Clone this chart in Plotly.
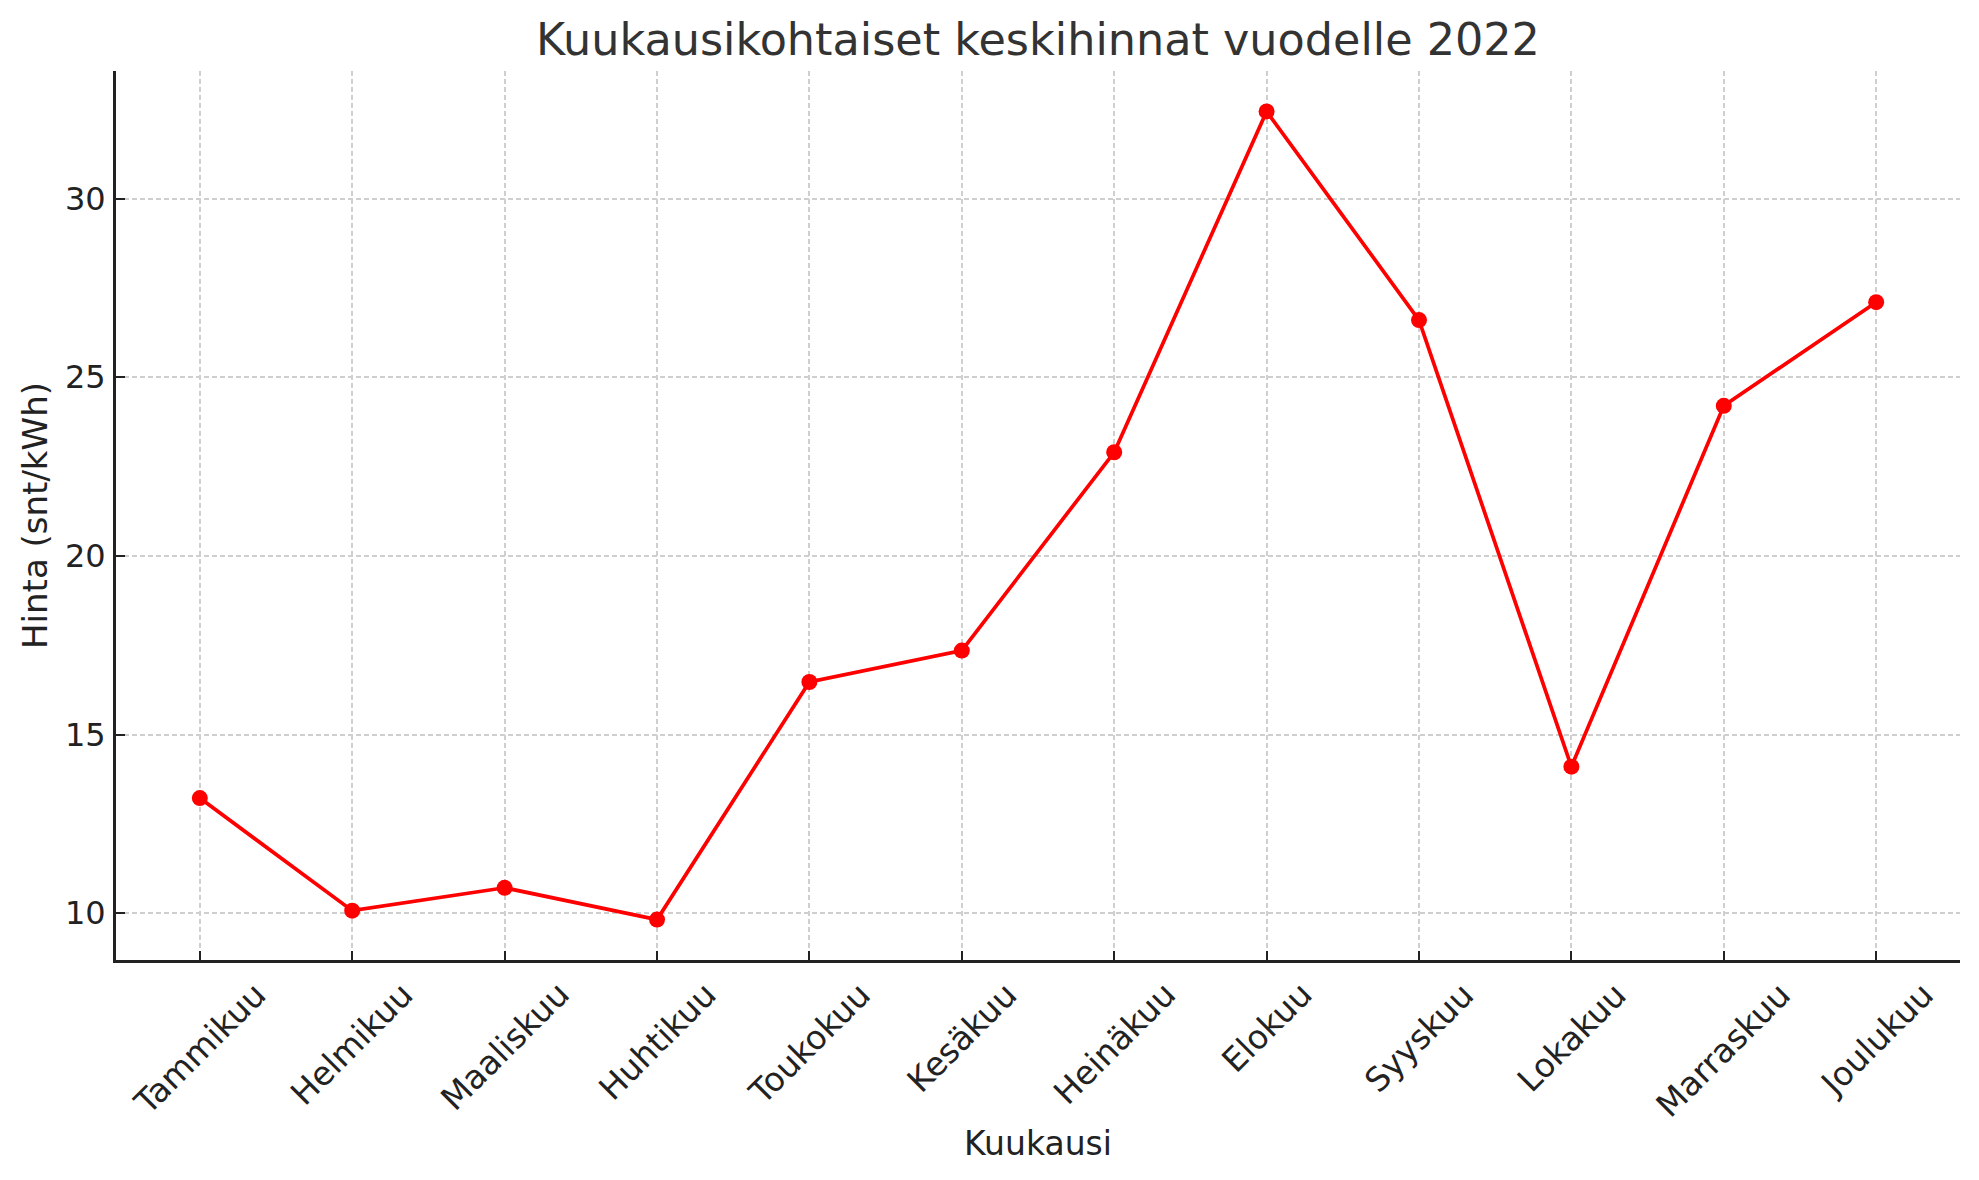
import plotly.graph_objects as go

months = ["Tammikuu", "Helmikuu", "Maaliskuu", "Huhtikuu", "Toukokuu", "Kesäkuu",
          "Heinäkuu", "Elokuu", "Syyskuu", "Lokakuu", "Marraskuu", "Joulukuu"]
prices = [13.22, 10.07, 10.71, 9.82, 16.47, 17.35, 22.9, 32.44, 26.6, 14.1, 24.2, 27.1]
y_ticks = [10, 15, 20, 25, 30]

FONT = "DejaVu Sans"
TXT = "#222222"
x_idx = list(range(len(months)))

fig = go.Figure()
fig.add_trace(go.Scatter(
    x=x_idx, y=prices, mode="lines+markers",
    line=dict(color="#ff0000", width=3.7),
    marker=dict(color="#ff0000", size=16),
    showlegend=False,
))

# month labels, rotated 45 degrees and centred under each tick
for i, m in enumerate(months):
    fig.add_annotation(
        x=i, xref="x", y=0, yref="paper", text=m, showarrow=False,
        textangle=-45, xanchor="center", yanchor="top", yshift=-12,
        font=dict(family=FONT, size=33, color=TXT),
    )

pad = 0.05 * (len(months) - 1)
ymin, ymax = min(prices), max(prices)
ypad = 0.05 * (ymax - ymin)

W, H = 1971, 1172  # page body has an 8px default margin
fig.update_layout(
    width=W, height=H,
    margin=dict(l=108, r=W - (1960 - 8), t=63, b=H - (960 - 8)),
    plot_bgcolor="white", paper_bgcolor="white",
    font=dict(family=FONT, color=TXT, size=33),
    title=dict(text="Kuukausikohtaiset keskihinnat vuodelle 2022",
               x=0.5, xref="paper", y=1 - (39 - 8) / H, yref="container",
               xanchor="center", yanchor="middle",
               font=dict(family=FONT, size=44.5, color="#333333")),
    xaxis=dict(
        tickmode="array", tickvals=x_idx, showticklabels=False,
        range=[-pad, len(months) - 1 + pad],
        ticks="inside", ticklen=9, tickwidth=2, tickcolor=TXT,
        showline=True, linecolor=TXT, linewidth=3, mirror=False,
        showgrid=True, gridcolor="#cfcfcf", gridwidth=1.7, griddash="5px,3px",
        zeroline=False, automargin=False,
        title=dict(text="Kuukausi", font=dict(size=33, color=TXT), standoff=170),
    ),
    yaxis=dict(
        tickmode="array", tickvals=y_ticks, ticktext=[str(v) for v in y_ticks],
        range=[ymin - ypad, ymax + ypad],
        ticks="inside", ticklen=9, tickwidth=2, tickcolor=TXT,
        ticklabelstandoff=1,
        showline=True, linecolor=TXT, linewidth=3, mirror=False,
        showgrid=True, gridcolor="#cfcfcf", gridwidth=1.7, griddash="5px,3px",
        zeroline=False, automargin=False,
        tickfont=dict(size=32, color=TXT),
        title=dict(text="Hinta (snt/kWh)", font=dict(size=34, color=TXT), standoff=7),
    ),
)

fig.write_html("out.html")
